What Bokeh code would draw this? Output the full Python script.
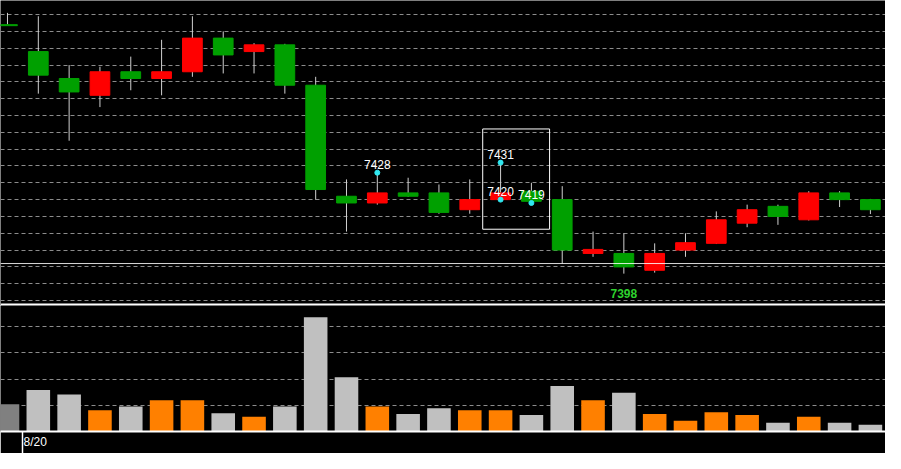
from bokeh.plotting import figure
from bokeh.layouts import column
from bokeh.models import ColumnDataSource, Grid, FixedTicker, Span, LinearAxis, Range1d
from bokeh.core.properties import value
from bokeh.embed import file_html
from bokeh.resources import INLINE

# ---------------- data ----------------
opens  = [7472, 7464, 7456, 7451, 7458, 7456, 7458, 7468, 7464, 7466,
          7454, 7421, 7419, 7422, 7422, 7417, 7420, 7422.5, 7420, 7404,
          7404, 7399, 7405, 7407, 7413, 7418, 7414, 7422, 7420]
highs  = [7475.5, 7474.5, 7460, 7459.5, 7462.5, 7467.5, 7474.5, 7470, 7466.5, 7466.3,
          7456.5, 7426, 7428, 7426.5, 7424.5, 7426, 7431, 7425, 7424, 7410.5,
          7410, 7407, 7410, 7416.5, 7418.5, 7418.5, 7422.5, 7422.5, 7420.2]
lows   = [7472, 7451.5, 7437.5, 7447.5, 7452.5, 7451, 7456.5, 7457.5, 7457.5, 7451.5,
          7420, 7410.5, 7418.5, 7420.8, 7415.8, 7415.8, 7420, 7419, 7401, 7403,
          7398, 7398.3, 7403, 7406.8, 7411.8, 7412.5, 7413.8, 7417.8, 7415.7]
closes = [7472, 7457, 7452, 7458, 7456, 7458, 7468, 7463, 7466, 7454,
          7423, 7419, 7422, 7421, 7416.2, 7420, 7422, 7419.5, 7405, 7405.2,
          7400, 7404, 7407.2, 7414, 7417, 7415, 7422, 7420, 7417]
volumes = [1040, 1590, 1410, 810, 960, 1190, 1190, 700, 560, 960,
           4370, 2070, 960, 670, 890, 810, 810, 630, 1740, 1190,
           1480, 670, 410, 740, 630, 330, 560, 330, 260]
date_label = "8/20"
price_grid = list(range(7390, 7480, 5))
volume_grid = [1000, 2000, 3000, 4000]
ref_price = 7401
mark_idx = [12, 16, 16, 17]
mark_price = [7428, 7431, 7420, 7419]
box_idx = [16, 17]

# ---------------- styling ----------------
BG = "#000000"
UP = "#ff0000"
DOWN = "#00a000"
VOL_UP = "#ff8000"
VOL_DOWN = "#c0c0c0"
VOL_PREV = "#808080"
GRID = "#8c8c8c"
FONT_NAME = "Liberation Sans"
FONT = value(FONT_NAME)

W, H1, H2 = 885, 305, 148
n = len(opens)
idx = list(range(n))

up = [c > o for o, c in zip(opens, closes)]
body_top = [max(o, c) for o, c in zip(opens, closes)]
body_bot = [min(o, c) if abs(o - c) > 0.3 else max(o, c) - 0.3 for o, c in zip(opens, closes)]
body_col = [UP if u else DOWN for u in up]
vol_col = [VOL_UP if u else VOL_DOWN for u in up]
vol_col[0] = VOL_PREV  # previous session, before the date divider

x_rng = Range1d(-0.227, 28.49)

# ---------------- price panel ----------------
p1 = figure(width=W, height=H1, x_range=x_rng, y_range=Range1d(7388.53, 7479.18),
            output_backend="svg", toolbar_location=None,
            x_axis_location=None, y_axis_location=None,
            background_fill_color=BG, border_fill_color=BG,
            min_border=0, outline_line_color=None)
p1.grid.visible = False
p1.add_layout(Grid(dimension=1, ticker=FixedTicker(ticks=price_grid),
                   grid_line_color=GRID, grid_line_dash="4 3", grid_line_width=1))

src = ColumnDataSource(dict(x=idx, o=opens, h=highs, l=lows, c=closes,
                            top=body_top, bot=body_bot, col=body_col))
p1.segment(x0="x", y0="l", x1="x", y1="h", source=src, line_color="#d0d0d0", line_width=1)
p1.vbar(x="x", width=0.64, top="top", bottom="bot", source=src,
        fill_color="col", line_color="col", line_width=1)

p1.add_layout(Span(location=ref_price, dimension="width", line_color="white",
                   line_width=1, line_alpha=0.85))
p1.add_layout(Span(location=7388.82, dimension="width", line_color="white", line_width=2))

# selection box around two candles
bx0 = box_idx[0] - 0.58
bx1 = box_idx[1] + 0.59
by1 = max(highs[i] for i in box_idx) + 10
by0 = min(lows[i] for i in box_idx) - 7.8
p1.quad(left=[bx0], right=[bx1], bottom=[by0], top=[by1], fill_color=None,
        line_color="white", line_width=1)

# price marks
p1.text(x=mark_idx, y=mark_price, text=[str(v) for v in mark_price],
        text_align="center", text_baseline="alphabetic", y_offset=-8,
        text_font=FONT, text_font_size="12px", text_color="white")
p1.scatter(x=mark_idx, y=mark_price, size=5, marker="circle",
           fill_color="#30e8f0", line_color="#30e8f0")

lo_i = min(idx, key=lambda i: lows[i])
p1.text(x=[lo_i], y=[lows[lo_i]], text=[str(int(lows[lo_i]))],
        text_align="center", text_baseline="alphabetic", y_offset=20,
        text_font=FONT, text_font_size="12px", text_font_style="bold",
        text_color="#2ed12e")

# ---------------- volume panel ----------------
p2 = figure(width=W, height=H2, x_range=x_rng, y_range=Range1d(0, 4815),
            output_backend="svg", toolbar_location=None,
            x_axis_location=None, y_axis_location=None,
            background_fill_color=BG, border_fill_color=BG,
            min_border=0, min_border_bottom=22, outline_line_color=None)
p2.grid.visible = False
p2.add_layout(Grid(dimension=1, ticker=FixedTicker(ticks=volume_grid),
                   grid_line_color=GRID, grid_line_dash="4 3", grid_line_width=1))
p2.vbar(x=idx, width=0.765, top=volumes, bottom=0, fill_color=vol_col, line_color=None)

ax = LinearAxis(ticker=FixedTicker(ticks=[0.9], minor_ticks=[0.5]),
                major_label_overrides={0.9: date_label},
                axis_line_color="white", axis_line_width=2,
                major_tick_line_color=None, major_tick_in=0, major_tick_out=0,
                minor_tick_line_color="white", minor_tick_line_width=1.5,
                minor_tick_in=0, minor_tick_out=22,
                major_label_text_color="white", major_label_text_font=FONT_NAME,
                major_label_text_font_size="12px", major_label_standoff=-19)
p2.add_layout(ax, "below")

layout = column(p1, p2, spacing=0)
open("out.html", "w").write(file_html(layout, INLINE))
